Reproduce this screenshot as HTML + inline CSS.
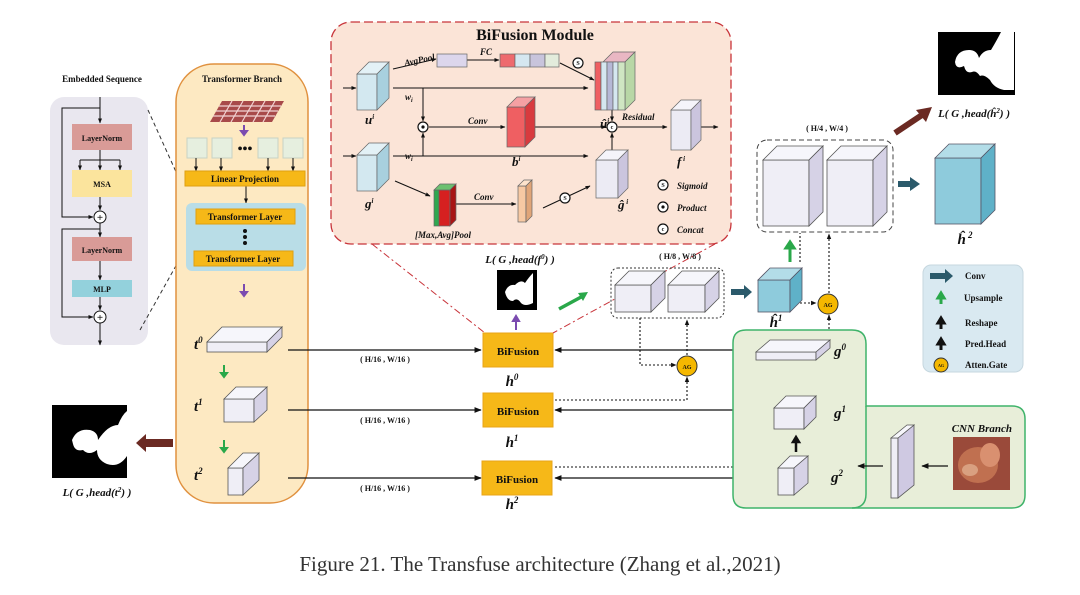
<!DOCTYPE html>
<html><head><meta charset="utf-8"><style>
html,body{margin:0;padding:0;background:#fff;}
svg{display:block;}
text{font-family:"Liberation Serif",serif;font-weight:bold;fill:#111;}
.i{font-style:italic;}
</style></head><body>
<svg width="1080" height="595" viewBox="0 0 1080 595" xmlns="http://www.w3.org/2000/svg">
<defs>
<marker id="a" viewBox="0 0 10 10" refX="9" refY="5" markerWidth="6" markerHeight="6" orient="auto"><path d="M0,1 L10,5 L0,9 z" fill="#111"/></marker>
<marker id="as" viewBox="0 0 10 10" refX="9" refY="5" markerWidth="5" markerHeight="5" orient="auto"><path d="M0,1 L10,5 L0,9 z" fill="#111"/></marker>
</defs>

<!-- Embedded sequence -->
<text x="102" y="82" font-size="9" text-anchor="middle">Embedded Sequence</text>
<rect x="50" y="97" width="98" height="248" rx="14" fill="#e9e7ef"/>
<g stroke="#111" stroke-width="1" fill="none">
<line x1="100" y1="97" x2="100" y2="123" marker-end="url(#as)"/>
<polyline points="100,108 62,108 62,217 93,217" marker-end="url(#as)"/>
<line x1="100" y1="150" x2="100" y2="160"/>
<line x1="80" y1="160" x2="120" y2="160"/>
<line x1="80" y1="160" x2="80" y2="170" marker-end="url(#as)"/>
<line x1="100" y1="160" x2="100" y2="170" marker-end="url(#as)"/>
<line x1="120" y1="160" x2="120" y2="170" marker-end="url(#as)"/>
<line x1="100" y1="197" x2="100" y2="210" marker-end="url(#as)"/>
<line x1="100" y1="223" x2="100" y2="237" marker-end="url(#as)"/>
<polyline points="100,229 62,229 62,317 93,317" marker-end="url(#as)"/>
<line x1="100" y1="261" x2="100" y2="280" marker-end="url(#as)"/>
<line x1="100" y1="297" x2="100" y2="310" marker-end="url(#as)"/>
<line x1="100" y1="323" x2="100" y2="345" marker-end="url(#as)"/>
</g>
<rect x="72" y="124" width="60" height="26" fill="#d99b97"/>
<text x="102" y="141" font-size="8" text-anchor="middle">LayerNorm</text>
<rect x="72" y="170" width="60" height="27" fill="#fbe49d"/>
<text x="102" y="187" font-size="8" text-anchor="middle">MSA</text>
<circle cx="100" cy="217" r="6" fill="#fff" stroke="#111"/><text x="100" y="221" font-size="11" text-anchor="middle">+</text>
<rect x="72" y="237" width="60" height="24" fill="#d99b97"/>
<text x="102" y="253" font-size="8" text-anchor="middle">LayerNorm</text>
<rect x="72" y="280" width="60" height="17" fill="#93d1dc"/>
<text x="102" y="292" font-size="8" text-anchor="middle">MLP</text>
<circle cx="100" cy="317" r="6" fill="#fff" stroke="#111"/><text x="100" y="321" font-size="11" text-anchor="middle">+</text>
<line x1="148" y1="110" x2="196" y2="216" stroke="#333" stroke-dasharray="4,3"/>
<line x1="140" y1="330" x2="196" y2="230" stroke="#333" stroke-dasharray="4,3"/>

<!-- Transformer branch -->
<rect x="176" y="64" width="132" height="439" rx="38" fill="#fde9c2" stroke="#e0913f" stroke-width="1.5"/>
<text x="242" y="82" font-size="9" text-anchor="middle">Transformer Branch</text>
<polygon points="222,101 284,101 272,122 210,122" fill="#a84a4a"/>
<g stroke="#f2d3d3" stroke-width="1.2">
<line x1="219" y1="106" x2="281" y2="106"/><line x1="216" y1="111" x2="278" y2="111"/><line x1="213" y1="116" x2="275" y2="116"/>
<line x1="232" y1="101" x2="220" y2="122"/><line x1="243" y1="101" x2="231" y2="122"/><line x1="254" y1="101" x2="242" y2="122"/><line x1="265" y1="101" x2="253" y2="122"/><line x1="275" y1="101" x2="263" y2="122"/>
</g>
<path d="M244,125 v6 h-3 l3,4 l3,-4 h-3" fill="#7b4bb0" stroke="#7b4bb0" stroke-width="2"/>
<g fill="#e6efdf" stroke="#c8d2c4">
<rect x="187" y="138" width="20" height="20"/><rect x="212" y="138" width="20" height="20"/>
<rect x="258" y="138" width="20" height="20"/><rect x="283" y="138" width="20" height="20"/>
</g>
<text x="245" y="153" font-size="14" text-anchor="middle">•••</text>
<g stroke="#111" fill="none">
<line x1="196" y1="158" x2="196" y2="171" marker-end="url(#as)"/><line x1="221" y1="158" x2="221" y2="171" marker-end="url(#as)"/>
<line x1="268" y1="158" x2="268" y2="171" marker-end="url(#as)"/><line x1="293" y1="158" x2="293" y2="171" marker-end="url(#as)"/>
<line x1="246" y1="186" x2="246" y2="203" marker-end="url(#as)"/>
</g>
<rect x="185" y="171" width="120" height="15" fill="#f6b818" stroke="#e0a010"/>
<text x="245" y="182" font-size="9" text-anchor="middle">Linear Projection</text>
<rect x="186" y="203" width="120" height="68" rx="6" fill="#b9dde7"/>
<rect x="196" y="209" width="99" height="15" fill="#f6b818" stroke="#e0a010"/>
<text x="245" y="220" font-size="9" text-anchor="middle">Transformer Layer</text>
<circle cx="245" cy="231" r="2" fill="#111"/><circle cx="245" cy="237" r="2" fill="#111"/><circle cx="245" cy="243" r="2" fill="#111"/>
<rect x="194" y="251" width="99" height="15" fill="#f6b818" stroke="#e0a010"/>
<text x="243" y="262" font-size="9" text-anchor="middle">Transformer Layer</text>
<path d="M244,284 v8 h-3 l3,4 l3,-4 h-3" fill="#7b4bb0" stroke="#7b4bb0" stroke-width="2"/>

<g stroke="#555" stroke-width="0.8">
<rect x="207" y="342" width="60" height="10" fill="#efeef6"/>
<polygon points="207,342 222,327 282,327 267,342" fill="#f6f6fb"/>
<polygon points="267,342 282,327 282,337 267,352" fill="#d6d2e6"/>
<rect x="224" y="399" width="30" height="23" fill="#efeef6"/>
<polygon points="224,399 236,387 267,387 254,399" fill="#f6f6fb"/>
<polygon points="254,399 267,387 267,410 254,422" fill="#d6d2e6"/>
<rect x="228" y="468" width="15" height="27" fill="#efeef6"/>
<polygon points="228,468 243,453 259,453 243,468" fill="#f6f6fb"/>
<polygon points="243,468 259,453 259,480 243,495" fill="#d6d2e6"/>
</g>
<text x="194" y="349" font-size="15" class="i">t<tspan font-size="9" dy="-6">0</tspan></text>
<text x="194" y="411" font-size="15" class="i">t<tspan font-size="9" dy="-6">1</tspan></text>
<text x="194" y="480" font-size="15" class="i">t<tspan font-size="9" dy="-6">2</tspan></text>
<path d="M224,365 v8 h-3 l3,4 l3,-4 h-3" fill="#2aa84a" stroke="#2aa84a" stroke-width="2"/>
<path d="M224,440 v8 h-3 l3,4 l3,-4 h-3" fill="#2aa84a" stroke="#2aa84a" stroke-width="2"/>

<!-- left mask -->
<rect x="52" y="405" width="75" height="73" fill="#000"/>
<path d="M72,440 q5,-12 18,-10 q8,2 8,10 q10,-15 20,-15 q4,-10 9,-14 v45 q-8,12 -20,8 q-10,-4 -10,-14 q-8,6 -14,0 q-8,2 -10,-6 z" fill="#fff"/>
<polygon points="173,439 146,439 146,434 136,443 146,452 146,447 173,447" fill="#6b2a23"/>
<text x="97" y="496" font-size="11" class="i" text-anchor="middle">L( G ,head(t<tspan font-size="7" dy="-4">2</tspan><tspan dy="4">) )</tspan></text>

<!-- horizontal lines -->
<g stroke="#111" stroke-width="1.2" fill="none">
<line x1="288" y1="350" x2="481" y2="350" marker-end="url(#a)"/>
<line x1="288" y1="410" x2="481" y2="410" marker-end="url(#a)"/>
<line x1="288" y1="478" x2="481" y2="478" marker-end="url(#a)"/>
<line x1="755" y1="350" x2="555" y2="350" marker-end="url(#a)"/>
<line x1="750" y1="410" x2="555" y2="410" marker-end="url(#a)"/>
<line x1="748" y1="478" x2="555" y2="478" marker-end="url(#a)"/>
</g>
<text x="385" y="362" font-size="8" text-anchor="middle">( H/16 , W/16 )</text>
<text x="385" y="423" font-size="8" text-anchor="middle">( H/16 , W/16 )</text>
<text x="385" y="491" font-size="8" text-anchor="middle">( H/16 , W/16 )</text>

<!-- BiFusion boxes -->
<g fill="#f6b818" stroke="#e8a518">
<rect x="483" y="333" width="70" height="34"/><rect x="483" y="393" width="70" height="34"/><rect x="482" y="461" width="70" height="34"/>
</g>
<text x="518" y="355" font-size="11" text-anchor="middle">BiFusion</text>
<text x="518" y="415" font-size="11" text-anchor="middle">BiFusion</text>
<text x="517" y="483" font-size="11" text-anchor="middle">BiFusion</text>
<text x="512" y="386" font-size="15" class="i" text-anchor="middle">h<tspan font-size="9" dy="-6">0</tspan></text>
<text x="512" y="447" font-size="15" class="i" text-anchor="middle">h<tspan font-size="9" dy="-6">1</tspan></text>
<text x="512" y="509" font-size="15" class="i" text-anchor="middle">h<tspan font-size="9" dy="-6">2</tspan></text>

<!-- mask f0 -->
<text x="520" y="263" font-size="11" class="i" text-anchor="middle">L( G ,head(f<tspan font-size="7" dy="-4">0</tspan><tspan dy="4">) )</tspan></text>
<rect x="497" y="270" width="40" height="40" fill="#000"/>
<path d="M505,292 q3,-8 10,-7 q6,-6 10,-2 q4,-6 8,-10 v30 q-8,4 -12,0 q-4,-6 -8,-2 q-6,0 -8,-9 z" fill="#fff"/>
<path d="M516,330 v-9 h-3 l3,-5 l3,5 h-3" fill="#7b4bb0" stroke="#7b4bb0" stroke-width="2"/>
<line x1="559" y1="309" x2="583" y2="296" stroke="#2aa84a" stroke-width="3.5"/>
<polygon points="588,292 578,293 583,301" fill="#2aa84a"/>

<!-- BiFusion module panel -->
<line x1="372" y1="244" x2="485" y2="333" stroke="#c8343a" stroke-dasharray="7,3,2,3"/>
<line x1="715" y1="244" x2="553" y2="333" stroke="#c8343a" stroke-dasharray="7,3,2,3"/>
<rect x="331" y="22" width="400" height="222" rx="20" fill="#fbe4d7" stroke="#c8343a" stroke-width="1.3" stroke-dasharray="9,4"/>
<text x="535" y="40" font-size="16" text-anchor="middle">BiFusion Module</text>
<g stroke="#111" stroke-width="1" fill="none">
<line x1="343" y1="88" x2="356" y2="88" marker-end="url(#as)"/>
<line x1="343" y1="156" x2="356" y2="156" marker-end="url(#as)"/>
<line x1="393" y1="69" x2="436" y2="59" marker-end="url(#as)"/>
<line x1="467" y1="60" x2="499" y2="60" marker-end="url(#as)"/>
<line x1="560" y1="63" x2="594" y2="80" marker-end="url(#as)"/>
<line x1="393" y1="88" x2="588" y2="88" marker-end="url(#as)"/>
<line x1="423" y1="88" x2="423" y2="121" marker-end="url(#as)"/>
<line x1="393" y1="156" x2="588" y2="156" marker-end="url(#as)"/>
<line x1="423" y1="156" x2="423" y2="133" marker-end="url(#as)"/>
<line x1="429" y1="127" x2="505" y2="127" marker-end="url(#as)"/>
<line x1="535" y1="127" x2="606" y2="127" marker-end="url(#as)"/>
<line x1="612" y1="110" x2="612" y2="121" marker-end="url(#as)"/>
<line x1="612" y1="150" x2="612" y2="133" marker-end="url(#as)"/>
<line x1="618" y1="127" x2="667" y2="127" marker-end="url(#as)"/>
<line x1="701" y1="127" x2="718" y2="127" marker-end="url(#as)"/>
<line x1="395" y1="181" x2="430" y2="196" marker-end="url(#as)"/>
<line x1="456" y1="204" x2="516" y2="204" marker-end="url(#as)"/>
<line x1="543" y1="208" x2="590" y2="186" marker-end="url(#as)"/>
</g>
<!-- u cube -->
<g stroke="#666" stroke-width="0.7">
<rect x="357" y="74" width="20" height="36" fill="#d3e8f0"/>
<polygon points="357,74 369,62 389,62 377,74" fill="#e3f1f6"/>
<polygon points="377,74 389,62 389,98 377,110" fill="#a8d0de"/>
<rect x="357" y="155" width="20" height="36" fill="#d3e8f0"/>
<polygon points="357,155 369,143 389,143 377,155" fill="#e3f1f6"/>
<polygon points="377,155 389,143 389,179 377,191" fill="#a8d0de"/>
<rect x="437" y="54" width="30" height="13" fill="#dcd6ec"/>
<rect x="500" y="54" width="15" height="13" fill="#ee6a6e"/>
<rect x="515" y="54" width="15" height="13" fill="#d5e7f0"/>
<rect x="530" y="54" width="15" height="13" fill="#c8c4dc"/>
<rect x="545" y="54" width="14" height="13" fill="#e3ecdc"/>
<rect x="507" y="107" width="18" height="40" fill="#ef5f62"/>
<polygon points="507,107 517,97 535,97 525,107" fill="#f5a0a3"/>
<polygon points="525,107 535,97 535,137 525,147" fill="#d83a3e"/>
<polygon points="603,62 613,52 635,52 625,62" fill="#e9b7c3"/>
<polygon points="625,62 635,52 635,100 625,110" fill="#b8d7a6"/>
<rect x="595" y="62" width="6" height="48" fill="#ef5f62"/>
<rect x="601" y="62" width="6" height="48" fill="#d5e7f0"/>
<rect x="607" y="62" width="6" height="48" fill="#b6b8d6"/>
<rect x="613" y="62" width="5" height="48" fill="#d5e7f0"/>
<rect x="618" y="62" width="7" height="48" fill="#cfe6c2"/>
<rect x="671" y="110" width="20" height="40" fill="#ecebf4"/>
<polygon points="671,110 681,100 701,100 691,110" fill="#f5f4fa"/>
<polygon points="691,110 701,100 701,140 691,150" fill="#cbc5de"/>
<rect x="596" y="160" width="22" height="38" fill="#ecebf4"/>
<polygon points="596,160 606,150 628,150 618,160" fill="#f5f4fa"/>
<polygon points="618,160 628,150 628,188 618,198" fill="#cbc5de"/>
<rect x="434" y="190" width="5" height="36" fill="#2fa84f"/>
<rect x="439" y="190" width="11" height="36" fill="#d62020"/>
<polygon points="434,190 440,184 456,184 450,190" fill="#6cc070"/>
<polygon points="450,190 456,184 456,220 450,226" fill="#a81515"/>
<rect x="518" y="186" width="8" height="36" fill="#f7c9a3"/>
<polygon points="518,186 524,180 532,180 526,186" fill="#fde3cc"/>
<polygon points="526,186 532,180 532,216 526,222" fill="#e0a578"/>
</g>
<text x="405" y="66" font-size="9" class="i" transform="rotate(-12 405 66)">AvgPool</text>
<text x="480" y="55" font-size="9" class="i">FC</text>
<text x="405" y="100" font-size="9" class="i">w<tspan font-size="6" dy="2">i</tspan></text>
<text x="405" y="159" font-size="9" class="i">w<tspan font-size="6" dy="2">i</tspan></text>
<text x="365" y="124" font-size="13" class="i">u<tspan font-size="7" dy="-5">i</tspan></text>
<text x="365" y="208" font-size="13" class="i">g<tspan font-size="7" dy="-5">i</tspan></text>
<text x="468" y="124" font-size="9" class="i">Conv</text>
<text x="512" y="166" font-size="13" class="i">b<tspan font-size="7" dy="-5">i</tspan></text>
<text x="600" y="128" font-size="13" class="i">û<tspan font-size="7" dy="-5">i</tspan></text>
<text x="622" y="120" font-size="9" class="i">Residual</text>
<text x="677" y="166" font-size="13" class="i">f<tspan font-size="7" dy="-5"> i</tspan></text>
<text x="618" y="209" font-size="13" class="i">ĝ<tspan font-size="7" dy="-5"> i</tspan></text>
<text x="474" y="200" font-size="9" class="i">Conv</text>
<text x="443" y="238" font-size="9" class="i" text-anchor="middle">[Max,Avg]Pool</text>
<g fill="#fff" stroke="#111" stroke-width="1.2">
<circle cx="423" cy="127" r="5"/><circle cx="612" cy="127" r="5"/>
<circle cx="578" cy="63" r="5"/><circle cx="565" cy="198" r="5"/>
<circle cx="663" cy="185" r="5"/><circle cx="663" cy="207" r="5"/><circle cx="663" cy="229" r="5"/>
</g>
<circle cx="423" cy="127" r="1.6" fill="#111"/><circle cx="663" cy="207" r="1.6" fill="#111"/>
<g font-size="6" text-anchor="middle"><text x="612" y="129">c</text><text x="578" y="65">S</text><text x="565" y="200">S</text><text x="663" y="187">S</text><text x="663" y="231">c</text></g>
<text x="677" y="189" font-size="9" class="i">Sigmoid</text>
<text x="677" y="211" font-size="9" class="i">Product</text>
<text x="677" y="233" font-size="9" class="i">Concat</text>

<!-- H/8 box -->
<text x="680" y="259" font-size="8" text-anchor="middle">( H/8 , W/8 )</text>
<rect x="611" y="268" width="113" height="50" rx="7" fill="none" stroke="#333" stroke-dasharray="2,2"/>
<g stroke="#555" stroke-width="0.8">
<rect x="615" y="285" width="36" height="27" fill="#efeef6"/>
<polygon points="615,285 629,271 665,271 651,285" fill="#f6f6fb"/>
<polygon points="651,285 665,271 665,298 651,312" fill="#d6d2e6"/>
<rect x="668" y="285" width="37" height="27" fill="#efeef6"/>
<polygon points="668,285 682,271 719,271 705,285" fill="#f6f6fb"/>
<polygon points="705,285 719,271 719,298 705,312" fill="#d6d2e6"/>
</g>
<polygon points="731,289 744,289 744,285 752,292 744,299 744,295 731,295" fill="#2b5a6b"/>
<g stroke="#556" stroke-width="0.8">
<rect x="758" y="280" width="32" height="32" fill="#8ecbdc"/>
<polygon points="758,280 770,268 802,268 790,280" fill="#b3dde8"/>
<polygon points="790,280 802,268 802,300 790,312" fill="#5fb1c8"/>
</g>
<text x="776" y="327" font-size="15" class="i" text-anchor="middle">ĥ<tspan font-size="9" dy="-6">1</tspan></text>
<path d="M790,262 v-14 h-4 l4,-6 l4,6 h-4" fill="#2aa84a" stroke="#2aa84a" stroke-width="3"/>

<!-- dotted connectors -->
<g stroke="#111" stroke-width="1.1" fill="none" stroke-dasharray="2,2">
<polyline points="640,318 640,365 676,365" marker-end="url(#as)"/>
<line x1="687" y1="355" x2="687" y2="320" marker-end="url(#as)"/>
<polyline points="555,400 687,400 687,377" marker-end="url(#as)"/>
<polyline points="555,467 829,467 829,315" marker-end="url(#as)"/>
<line x1="800" y1="262" x2="800" y2="233"/>
<line x1="800" y1="303" x2="816" y2="303" marker-end="url(#as)"/>
<line x1="829" y1="293" x2="829" y2="234" marker-end="url(#as)"/>
</g>
<g fill="#f5b800" stroke="#333" stroke-width="1">
<circle cx="687" cy="366" r="10"/><circle cx="828" cy="304" r="10"/>
</g>
<text x="687" y="369" font-size="6" text-anchor="middle" font-weight="normal">AG</text>
<text x="828" y="307" font-size="6" text-anchor="middle" font-weight="normal">AG</text>

<!-- H/4 box -->
<text x="827" y="131" font-size="8" text-anchor="middle">( H/4 , W/4 )</text>
<rect x="757" y="140" width="136" height="92" rx="10" fill="none" stroke="#444" stroke-dasharray="5,3"/>
<g stroke="#555" stroke-width="0.8">
<rect x="763" y="160" width="46" height="66" fill="#efeef6"/>
<polygon points="763,160 777,146 823,146 809,160" fill="#f6f6fb"/>
<polygon points="809,160 823,146 823,212 809,226" fill="#d6d2e6"/>
<rect x="827" y="160" width="46" height="66" fill="#efeef6"/>
<polygon points="827,160 841,146 887,146 873,160" fill="#f6f6fb"/>
<polygon points="873,160 887,146 887,212 873,226" fill="#d6d2e6"/>
</g>
<polygon points="898,181 910,181 910,177 920,184 910,191 910,187 898,187" fill="#2b5a6b"/>
<g stroke="#556" stroke-width="0.8">
<rect x="935" y="158" width="46" height="66" fill="#8ecbdc"/>
<polygon points="935,158 949,144 995,144 981,158" fill="#b3dde8"/>
<polygon points="981,158 995,144 995,210 981,224" fill="#5fb1c8"/>
</g>
<text x="965" y="244" font-size="15" class="i" text-anchor="middle">ĥ<tspan font-size="9" dy="-6"> 2</tspan></text>
<line x1="895" y1="133" x2="925" y2="113" stroke="#6b2a23" stroke-width="6"/>
<polygon points="932,107 916,110 926,122" fill="#6b2a23"/>
<rect x="938" y="32" width="77" height="63" fill="#000"/>
<path d="M955,62 q2,-12 14,-12 q8,0 10,8 q4,-8 12,-8 q6,-10 10,-18 h13 v58 h-10 q-10,-2 -14,-10 q-6,-6 -10,-4 q-4,-6 -8,-4 q-6,2 -8,-6 q-8,4 -9,-4 z" fill="#fff"/>
<text x="1010" y="117" font-size="11" class="i" text-anchor="end">L( G ,head(ĥ<tspan font-size="7" dy="-4">2</tspan><tspan dy="4">) )</tspan></text>

<!-- legend -->
<rect x="923" y="265" width="100" height="107" rx="8" fill="#d9e9f1" stroke="#c6d7df"/>
<polygon points="930,273 945,273 945,269 953,276 945,283 945,279 930,279" fill="#2b5a6b"/>
<path d="M941,304 v-6 h-3 l3,-5 l3,5 h-3" fill="#2aa84a" stroke="#2aa84a" stroke-width="3"/>
<path d="M941,329 v-6 h-3 l3,-5 l3,5 h-3" fill="#111" stroke="#111" stroke-width="3"/>
<path d="M941,350 v-6 h-3 l3,-5 l3,5 h-3" fill="#111" stroke="#111" stroke-width="3"/>
<circle cx="941" cy="365" r="7" fill="#f5b800" stroke="#333"/>
<text x="941" y="367" font-size="4" text-anchor="middle" font-weight="normal">AG</text>
<g font-size="9"><text x="965" y="279">Conv</text><text x="964" y="301">Upsample</text><text x="965" y="326">Reshape</text><text x="965" y="347">Pred.Head</text><text x="965" y="368">Atten.Gate</text></g>

<!-- CNN branch -->
<path d="M746,330 H852 Q866,330 866,344 V406 H1012 Q1025,406 1025,419 V495 Q1025,508 1012,508 H746 Q733,508 733,495 V343 Q733,330 746,330 Z" fill="#e8eed9" stroke="#3fb36a" stroke-width="1.5"/>
<path d="M866,406 V494 Q866,508 852,508" fill="none" stroke="#3fb36a" stroke-width="1.5"/>
<text x="1012" y="432" font-size="11" class="i" text-anchor="end">CNN Branch</text>
<rect x="953" y="437" width="57" height="53" fill="#9a4a3a"/>
<ellipse cx="978" cy="465" rx="20" ry="18" fill="#c07050"/>
<ellipse cx="990" cy="455" rx="10" ry="12" fill="#d99070"/>
<ellipse cx="970" cy="470" rx="8" ry="6" fill="#d9a080"/>
<g stroke="#555" stroke-width="0.8">
<rect x="891" y="438" width="7" height="60" fill="#efeef6"/>
<polygon points="898,438 914,425 914,485 898,498" fill="#cfc9e2"/>
<polygon points="891,438 907,425 914,425 898,438" fill="#f6f6fb"/>
<rect x="756" y="352" width="60" height="8" fill="#efeef6"/>
<polygon points="756,352 770,340 830,340 816,352" fill="#f6f6fb"/>
<polygon points="816,352 830,340 830,348 816,360" fill="#d6d2e6"/>
<rect x="774" y="408" width="30" height="21" fill="#efeef6"/>
<polygon points="774,408 786,396 816,396 804,408" fill="#f6f6fb"/>
<polygon points="804,408 816,396 816,417 804,429" fill="#d6d2e6"/>
<rect x="778" y="468" width="16" height="27" fill="#efeef6"/>
<polygon points="778,468 790,456 808,456 794,468" fill="#f6f6fb"/>
<polygon points="794,468 808,456 808,483 794,495" fill="#d6d2e6"/>
</g>
<path d="M796,452 v-10 h-3 l3,-5 l3,5 h-3" fill="#111" stroke="#111" stroke-width="2.5"/>
<g stroke="#111" stroke-width="1.2"><line x1="948" y1="466" x2="922" y2="466" marker-end="url(#a)"/><line x1="883" y1="466" x2="858" y2="466" marker-end="url(#a)"/></g>
<text x="834" y="356" font-size="15" class="i">g<tspan font-size="9" dy="-6">0</tspan></text>
<text x="834" y="418" font-size="15" class="i">g<tspan font-size="9" dy="-6">1</tspan></text>
<text x="831" y="482" font-size="15" class="i">g<tspan font-size="9" dy="-6">2</tspan></text>

<text x="540" y="571" font-size="21" text-anchor="middle" style="font-weight:normal;fill:#333">Figure 21. The Transfuse architecture (Zhang et al.,2021)</text>
</svg>
</body></html>
